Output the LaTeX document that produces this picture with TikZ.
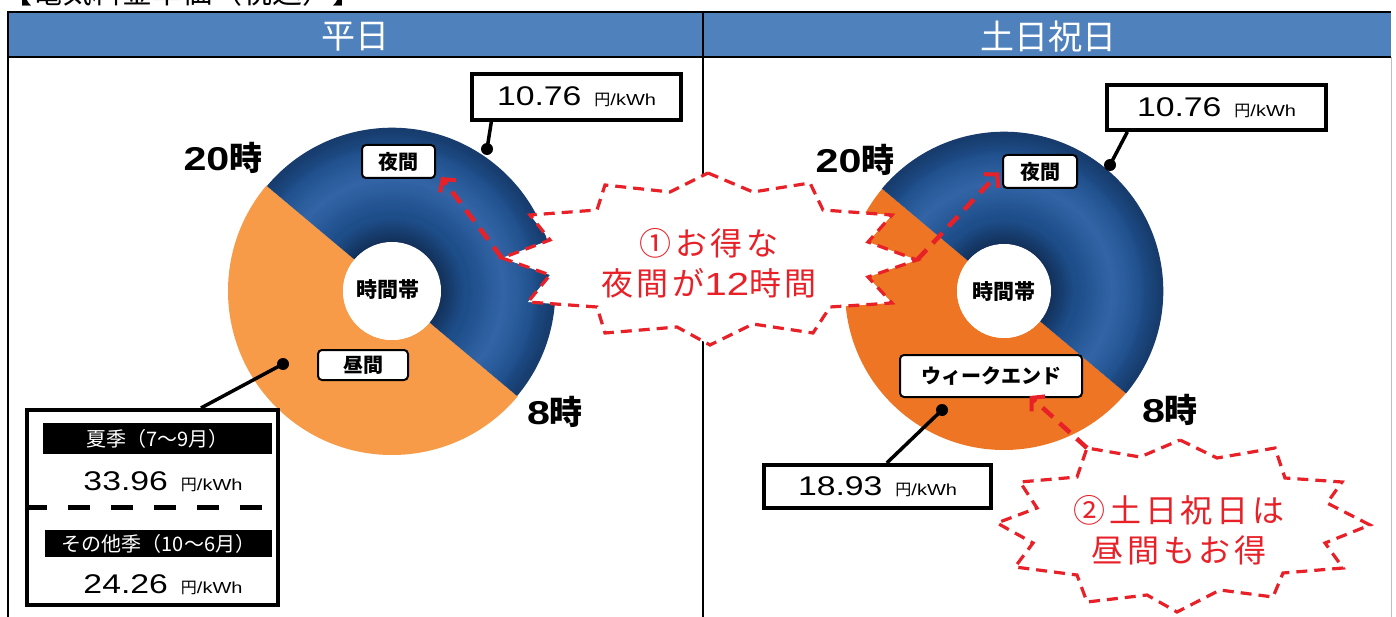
\documentclass[tikz,border=0pt]{standalone}
\usepackage{fontspec}
\newfontfamily\jp{Noto Sans CJK JP}
\newfontfamily\jpsp[LetterSpace=12]{Noto Sans CJK JP}
\newfontfamily\numf[FakeStretch=1.25]{Liberation Sans}
\usetikzlibrary{arrows.meta,calc}
\definecolor{hdr}{RGB}{79,129,189}
\definecolor{orL}{RGB}{248,155,72}
\definecolor{orR}{RGB}{237,117,35}
\definecolor{bM}{RGB}{30,78,138}
\definecolor{bL}{RGB}{58,108,176}
\definecolor{bD}{RGB}{16,42,80}
\definecolor{rd}{RGB}{232,32,40}
\newcommand\price[1]{{\numf\fontsize{27}{27}\selectfont #1}\hspace{13pt}{\fontsize{16}{16}\selectfont\jp 円\numf /kWh}}
\newcommand\drawdonut[5]{%
  \fill[#5] ($(#1,#2)+(40:#3)$) arc[start angle=40,end angle=220,radius=#3]
     -- ($(#1,#2)+(220:#4)$) arc[start angle=220,end angle=40,radius=#4] -- cycle;
  \pgfmathtruncatemacro\nb{(#3-#4)/2-1}
  \foreach \k in {0,...,\nb}{%
    \pgfmathsetmacro\t{#4+1+2*\k}
    \pgfmathsetmacro\dd{(\t-#4)/(#3-#4)}
    \pgfmathsetmacro\Lf{max(0,1-abs(\dd-0.55)/0.3)*75}
    \pgfmathsetmacro\Df{max(max(0,1-\dd/0.22)*85,max(0,(\dd-0.8)/0.2)*55)}
    \colorlet{bandA}{bL!\Lf!bM}
    \colorlet{bandB}{bD!\Df!bandA}
    \draw[bandB,line width=2.6pt] ($(#1,#2)+(220:\t)$) arc[start angle=220,end angle=400,radius=\t];
  }
  \fill[white] (#1,#2) circle[radius=#4];
}
\begin{document}
\begin{tikzpicture}[x=1pt,y=-1pt,
  lbl/.style={draw=black,line width=2pt,rounded corners=4pt,fill=white,inner sep=0pt,font=\jp\bfseries\fontsize{20}{20}\selectfont},
  numbox/.style={draw=black,line width=4pt,fill=white,inner sep=0pt},
  hour/.style={inner sep=0pt,font=\bfseries\fontsize{33}{33}\selectfont},
  dot/.style={circle,fill=black,minimum size=12pt,inner sep=0pt},
  conn/.style={line width=3.5pt},
  frame/.style={line width=2.5pt},
  bar/.style={fill=black,text=white,inner sep=0pt,font=\jp\fontsize{20}{20}\selectfont},
  hdrtext/.style={text=white,inner sep=0pt,font=\jp\fontsize{34}{34}\selectfont},
  burst/.style={draw=rd,fill=white,line width=3.2pt,dash pattern=on 11pt off 7pt,line join=miter},
  rarrow/.style={draw=rd,line width=4.5pt,dash pattern=on 14pt off 9pt,-{Straight Barb[length=9pt,width=20pt,line width=4pt]}},
  bursttext/.style={text=rd,align=center,inner sep=0pt,font=\jpsp\fontsize{32}{40}\selectfont}]
\useasboundingbox (0,0) rectangle (1396,617);
\fill[white] (0,0) rectangle (1396,617);
% clipped title
\node[anchor=base west,inner sep=0pt,font=\jp\fontsize{30}{30}\selectfont] (title) at (2,4) {【電気料金単価（税込）】};
% panels
\fill[hdr] (8,12) rectangle (1391,57);
\draw[gray!50,line width=1pt] (1391,57) -- (1391,617);
\draw[frame] (8,617) -- (8,12) -- (1391,12);
\draw[frame] (8,57) -- (1391,57);
\draw[frame] (703,12) -- (703,617);
\node[hdrtext] (hdrL) at (355,37) {平日};
\node[hdrtext] (hdrR) at (1048,37) {土日祝日};
% donuts
\drawdonut{392}{291}{164}{49}{orL}
\drawdonut{1004}{291}{159}{47}{orR}
% left labels
\node[hour] (h20L) at (223,158) {\numf 20\jp 時};
\node[hour] (h8L) at (555,412) {\numf 8\jp 時};
\node[lbl,minimum width=73pt,minimum height=33pt] (nightL) at (398.5,161.5) {夜間};
\node[lbl,minimum width=90pt,minimum height=30pt] (dayL) at (363,365) {昼間};
\node[inner sep=0pt,font=\jp\bfseries\fontsize{21}{21}\selectfont] (hubL) at (388,290) {時間帯};
\node[numbox,minimum width=209pt,minimum height=46pt] (priceTL) at (576.5,97) {\price{10.76}};
\node[dot] (dotTL) at (487,149) {};
\draw[conn] (dotTL.center) -- ($(priceTL.south west)!0.1!(priceTL.south east)$);
\node[numbox,minimum width=251pt,minimum height=195pt] (seasonbox) at (152.5,507.5) {};
\node[dot] (dotBL) at (283,364) {};
\draw[conn] (dotBL.center) -- ($(seasonbox.north west)!0.69!(seasonbox.north east)$);
\node[bar,minimum width=229pt,minimum height=31pt] (sumbar) at (157.5,438.5) {夏季（7〜9月）};
\node[inner sep=0pt] (sumprice) at (163,482) {\price{33.96}};
\draw[line width=5.5pt,dash pattern=on 22pt off 21pt] (seasonbox.west) -- (seasonbox.east);
\node[bar,minimum width=227pt,minimum height=27pt] (othbar) at (158.5,543.5) {その他季（10〜6月）};
\node[inner sep=0pt] (othprice) at (163,585) {\price{24.26}};
% right labels
\node[hour] (h20R) at (855,160) {\numf 20\jp 時};
\node[hour] (h8R) at (1170,410) {\numf 8\jp 時};
\node[lbl,minimum width=74pt,minimum height=33pt] (nightR) at (1040,171.5) {夜間};
\node[lbl,minimum width=182pt,minimum height=42pt] (weekR) at (991,376) {ウィークエンド};
\node[inner sep=0pt,font=\jp\bfseries\fontsize{21}{21}\selectfont] (hubR) at (1004,292) {時間帯};
\node[numbox,minimum width=219pt,minimum height=45pt] (priceTR) at (1216.5,107.5) {\price{10.76}};
\node[dot] (dotTR) at (1110,165) {};
\draw[conn] (dotTR.center) -- ($(priceTR.south west)!0.1!(priceTR.south east)$);
\node[numbox,minimum width=227pt,minimum height=43pt] (priceBR) at (877.5,486.5) {\price{18.93}};
\node[dot] (dotBR) at (942,410) {};
\draw[conn] (dotBR.center) -- ($(priceBR.north west)!0.54!(priceBR.north east)$);
% burst 1
\draw[burst] (708,173) -- (753,192) -- (810,183) -- (823,210) -- (892,215) -- (868,242)
  -- (917,260) coordinate (b1R) -- (868,277) -- (892,303) -- (830,307) -- (813,333) -- (753,324)
  -- (710,345) -- (677,327) -- (605,333) -- (597,307) -- (528,302) -- (550,275)
  -- (502,258) coordinate (b1L) -- (550,240) -- (530,215) -- (597,210) -- (605,185) -- (670,192) -- cycle;
\node[bursttext] (burst1) at (709,263) {①お得な\\夜間が{\numf 12}時間};
% burst 2
\draw[burst] (1180,440) -- (1217,458) -- (1275,448) -- (1285,478) -- (1342,482) -- (1327,503)
  -- (1370,525) -- (1325,543) -- (1343,568) -- (1283,573) -- (1273,597) -- (1220,590)
  -- (1177,612) -- (1147,595) -- (1087,602) -- (1077,575) -- (1015,567) -- (1033,543)
  -- (997,523) -- (1037,508) -- (1020,482) -- (1077,477) -- (1087,448) coordinate (b2T) -- (1140,457) -- cycle;
\node[bursttext] (burst2) at (1179,530) {②土日祝日は\\昼間もお得};
% arrows
\draw[rarrow] (b1L) -- ($(nightL.south east)+(5,-2)$);
\draw[rarrow] (b1R) -- ($(nightR.west)+(-3,1)$);
\draw[rarrow] (b2T) -- ($(weekR.south west)!0.71!(weekR.south east)+(0,-2)$);
\end{tikzpicture}
\end{document}
